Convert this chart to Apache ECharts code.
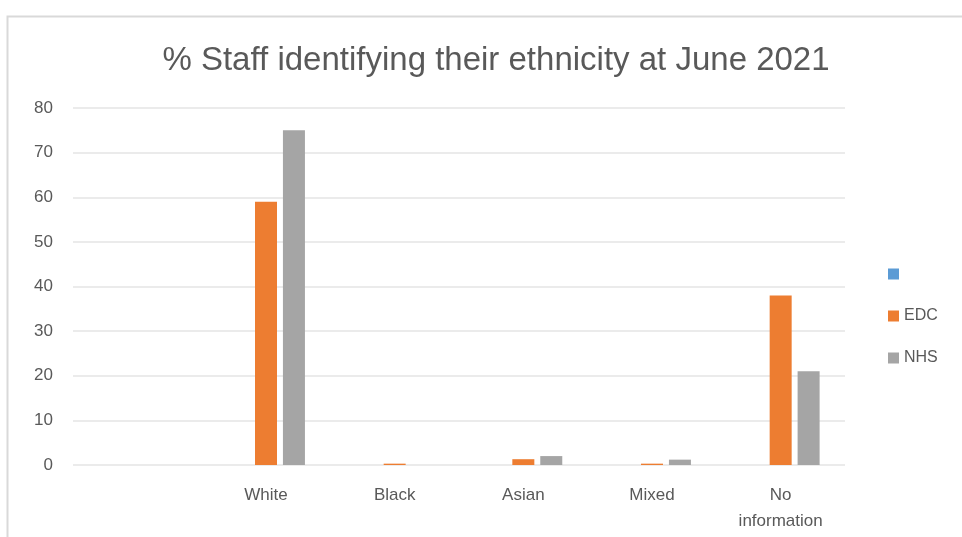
<!DOCTYPE html>
<html><head><meta charset="utf-8">
<script src="https://cdn.jsdelivr.net/npm/echarts@6/dist/echarts.min.js"></script>
<style>html,body{margin:0;padding:0;background:#fff}#c{width:962px;height:537px}</style>
</head><body><div id="c"></div>
<script>
var titleText = '% Staff identifying their ethnicity at June 2021';
var categories = ['', 'White', 'Black', 'Asian', 'Mixed', 'No\ninformation'];
var seriesNames = [' ', 'EDC', 'NHS'];
var blankValues = [null, null, null, null, null, null];
var edcValues = [null, 59, 0.3, 1.3, 0.3, 38];
var nhsValues = [null, 75, 0, 2, 1.2, 21];
var yTicks = {min: 0, max: 80, interval: 10};

var chart = echarts.init(document.getElementById('c'), null, {renderer: 'canvas'});
var txt = '#595959';
var font = '"Liberation Sans", "Open Sans", sans-serif';
chart.setOption({
  animation: false,
  textStyle: {fontFamily: font},
  graphic: [{type: 'polyline', shape: {points: [[7.5, 540], [7.5, 16.5], [970, 16.5]]}, style: {stroke: '#d9d9d9', lineWidth: 2, fill: null}}],
  title: {text: titleText, left: 491, top: 39, textAlign: 'center',
    textStyle: {fontFamily: font, fontSize: 33, fontWeight: 'normal', color: txt}},
  legend: {orient: 'vertical', left: 883, top: 261, align: 'left', itemGap: 26, itemWidth: 11, itemHeight: 11,
    icon: 'rect', data: seriesNames, textStyle: {fontSize: 16, color: txt, fontFamily: font}},
  grid: {left: 73, right: 117, top: 108, bottom: 72, containLabel: false},
  xAxis: {type: 'category', data: categories,
    axisLine: {show: false}, axisTick: {show: false},
    axisLabel: {fontSize: 17, color: txt, margin: 17, lineHeight: 26, interval: 0}},
  yAxis: {type: 'value', min: yTicks.min, max: yTicks.max, interval: yTicks.interval,
    axisLine: {show: false}, axisTick: {show: false},
    axisLabel: {fontSize: 17, color: txt, margin: 20},
    splitLine: {lineStyle: {color: '#e4e4e4', width: 1.5}}},
  series: [
    {name: seriesNames[0], type: 'bar', data: blankValues, barWidth: 22, barGap: '27%', itemStyle: {color: '#5b9bd5'}},
    {name: seriesNames[1], type: 'bar', data: edcValues, barWidth: 22, barGap: '27%', itemStyle: {color: '#ed7d31'}},
    {name: seriesNames[2], type: 'bar', data: nhsValues, barWidth: 22, barGap: '27%', itemStyle: {color: '#a5a5a5'}}
  ]
});
</script></body></html>
